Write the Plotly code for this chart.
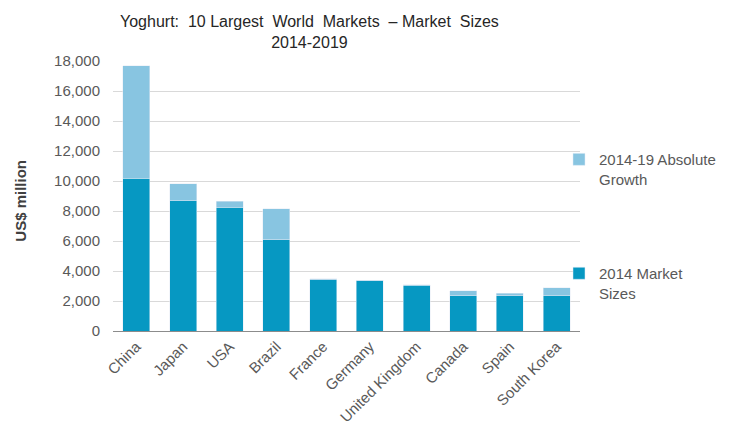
import plotly.graph_objects as go

countries = ["China", "Japan", "USA", "Brazil", "France", "Germany",
             "United Kingdom", "Canada", "Spain", "South Korea"]
market_2014 = [10200, 8690, 8250, 6100, 3430, 3350, 3050, 2340, 2360, 2340]
growth_2014_19 = [7470, 1130, 390, 2040, 70, 50, 20, 350, 150, 530]

base_color = "#0698C2"
growth_color = "#88C5E1"
font = "Liberation Sans, Arial, sans-serif"

fig = go.Figure()
fig.add_trace(go.Bar(x=countries, y=market_2014, name="2014 Market<br>Sizes",
                     marker_color=base_color, legend="legend2"))
fig.add_trace(go.Bar(x=countries, y=growth_2014_19, name="2014-19 Absolute<br>Growth",
                     marker_color=growth_color, legend="legend"))

leg_font = dict(family=font, size=15, color="#595959")
fig.update_layout(
    width=725, height=422,
    barmode="stack", bargap=0.42,
    showlegend=True,
    plot_bgcolor="white", paper_bgcolor="white",
    margin=dict(l=105, r=153, t=53, b=99, autoexpand=False),
    font=dict(family=font, size=15, color="#595959"),
    legend=dict(x=0.955, y=0.696, xanchor="left", yanchor="top", valign="top",
                font=leg_font, bgcolor="rgba(0,0,0,0)"),
    legend2=dict(x=0.955, y=0.274, xanchor="left", yanchor="top", valign="top",
                 font=leg_font, bgcolor="rgba(0,0,0,0)"),
    annotations=[
        dict(text="Yoghurt:  10 Largest  World  Markets  – Market  Sizes<br>2014-2019",
             x=0.42, y=1.1056, xref="paper", yref="paper", xanchor="center",
             yanchor="middle", showarrow=False,
             font=dict(family=font, size=16, color="#262626")),
        dict(text="<b>US$ million</b>", textangle=-90, x=-0.198, y=0.481,
             xref="paper", yref="paper", xanchor="center", yanchor="middle",
             showarrow=False,
             font=dict(family=font, size=15, color="#404040")),
    ],
)
fig.update_xaxes(tickangle=-45, showline=True, linecolor="#8C8C8C", linewidth=1,
                 ticks="", tickfont=dict(size=15, color="#595959"))
fig.update_yaxes(range=[0, 18000], dtick=2000, tickformat=",", showgrid=True,
                 gridcolor="#D9D9D9", zeroline=False, ticks="",
                 ticklabelstandoff=12,
                 tickfont=dict(size=15, color="#595959"))

fig.write_html("out.html")
